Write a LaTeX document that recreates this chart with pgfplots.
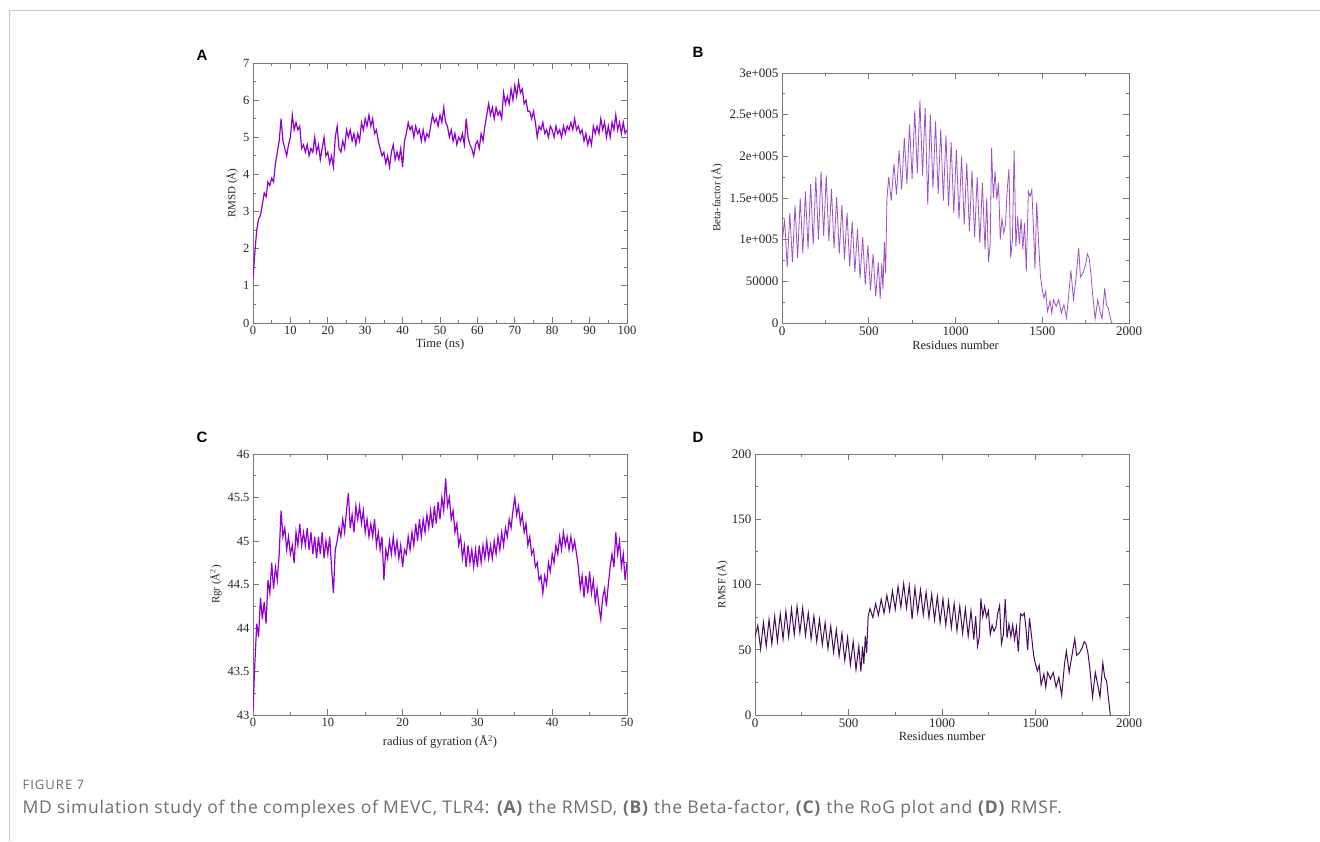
\documentclass[border=0pt]{standalone}
\usepackage{fontspec}
\setmainfont{Liberation Serif}
\newfontfamily\labfont{Liberation Sans}
\newfontfamily\capfont{Open Sans}
\usepackage{pgfplots}
\usepackage{pgfplotstable}
\pgfplotsset{compat=1.18}

\definecolor{rmsdcol}{RGB}{145,0,210}
\definecolor{betacol}{RGB}{155,80,200}
\definecolor{rmsfcol}{RGB}{70,10,90}
\definecolor{framecol}{RGB}{120,120,120}
\definecolor{capcol}{RGB}{110,110,110}

\pgfplotsset{
  grace/.style={
    scale only axis, anchor=south west,
    tick align=inside, major tick length=6pt, minor tick length=3pt,
    minor tick num=1,
    axis line style={draw=framecol, line width=0.8pt},
    every tick/.style={draw=framecol, line width=0.8pt},
    tick label style={font=\fontsize{12.5}{12.5}\selectfont, text=black!85},
    /pgf/number format/assume math mode=true,
    /pgf/number format/set thousands separator={},
    scaled ticks=false,
    xlabel style={font=\fontsize{12.5}{12.5}\selectfont, text=black!85, anchor=center},
    ylabel style={font=\fontsize{11}{11}\selectfont, text=black!85, anchor=center, rotate=0},
  }
}

% RMSD, one value every 0.5 ns
\pgfplotstableread[header=false]{
1.2
1.9
2.5
2.8
2.9
3.2
3.5
3.4
3.8
3.7
3.9
3.8
4.3
4.6
4.9
5.5
4.9
4.7
4.5
4.8
5.0
5.6
5.2
5.4
5.2
5.3
4.7
4.8
4.6
4.8
4.5
4.7
4.6
5.0
4.6
4.8
4.4
4.7
5.0
4.5
4.6
4.3
4.5
4.2
5.0
5.3
4.7
4.6
4.9
4.7
5.2
5.0
5.2
4.9
5.1
4.8
5.1
4.9
5.4
5.2
5.5
5.3
5.6
5.3
5.5
5.1
5.2
4.9
4.7
4.5
4.6
4.3
4.5
4.2
4.6
4.8
4.4
4.6
4.4
4.7
4.2
4.9
5.1
5.4
5.2
5.3
5.0
5.3
5.1
5.2
4.9
5.2
4.9
5.1
5.0
5.3
5.6
5.4
5.5
5.3
5.6
5.4
5.8
5.4
5.3
5.0
5.2
4.9
5.1
4.8
5.0
4.9
5.1
4.8
5.5
5.0
4.8
4.7
4.5
4.8
4.9
4.7
5.1
4.9
5.3
5.6
5.9
5.6
5.8
5.5
5.8
5.6
5.7
5.5
6.2
5.9
6.1
5.9
6.3
6.0
6.4
6.1
6.5
6.2
6.3
5.9
6.0
5.7
5.7
5.5
5.7
5.4
5.0
5.3
5.2
5.4
5.1
5.2
5.0
5.3
5.2
5.0
5.3
5.1
5.2
5.0
5.3
5.1
5.3
5.2
5.4
5.2
5.5
5.2
5.3
5.1
5.2
4.9
5.1
4.8
5.0
4.8
5.3
5.1
5.3
5.1
5.5
5.2
5.4
5.0
5.3
5.0
5.4
5.2
5.6
5.2
5.4
5.1
5.4
5.1
5.2
}\rmsd

% Rgr, one value every 0.25
\pgfplotstableread[header=false]{
43.05
43.60
44.05
43.90
44.35
44.10
44.30
44.05
44.55
44.40
44.75
44.45
44.70
44.55
44.85
45.35
45.05
45.15
44.90
45.05
44.85
44.95
44.75
45.10
44.95
45.20
44.95
45.10
44.95
45.15
44.90
45.10
44.85
45.05
44.80
45.05
44.85
45.10
44.80
45.00
44.85
45.05
44.70
44.40
44.90
45.00
45.15
45.05
45.25
45.10
45.35
45.55
45.15
45.30
45.10
45.40
45.25
45.40
45.20
45.35
45.10
45.25
45.05
45.20
45.05
45.25
44.95
45.10
44.90
45.05
44.55
44.90
44.80
45.00
44.85
45.05
44.85
45.00
44.80
44.95
44.70
44.90
44.85
45.05
44.90
45.10
44.95
45.20
45.00
45.25
45.05
45.25
45.10
45.30
45.15
45.35
45.15
45.40
45.20
45.45
45.25
45.50
45.35
45.72
45.40
45.50
45.25
45.35
45.10
45.20
44.95
45.05
44.80
44.95
44.70
44.95
44.75
44.90
44.70
44.90
44.70
44.95
44.75
44.95
44.80
45.00
44.80
44.95
44.80
45.00
44.85
45.05
44.90
45.10
44.95
45.15
45.05
45.25
45.15
45.35
45.50
45.30
45.40
45.20
45.30
45.10
45.20
44.95
45.05
44.85
44.90
44.70
44.75
44.55
44.60
44.40
44.60
44.50
44.75
44.65
44.85
44.75
44.95
44.85
45.05
44.90
45.10
44.95
45.05
44.90
45.05
44.90
45.00
44.85
44.70
44.45
44.60
44.35
44.60
44.40
44.65
44.40
44.55
44.30
44.45
44.25
44.10
44.35
44.45
44.25
44.50
44.70
44.85
44.70
45.10
44.85
45.00
44.70
44.85
44.55
44.75
}\rgr

\begin{document}
\begin{tikzpicture}[x=1pt,y=1pt]
\useasboundingbox (0,0) rectangle (1320,841);
\draw[black!22, line width=1pt] (9.5,0) -- (9.5,830.5) -- (1320,830.5);

\node[font=\labfont\bfseries\fontsize{15}{15}\selectfont] at (202,786) {A};
\node[font=\labfont\bfseries\fontsize{15}{15}\selectfont] at (698,789) {B};
\node[font=\labfont\bfseries\fontsize{15}{15}\selectfont] at (202,404) {C};
\node[font=\labfont\bfseries\fontsize{15}{15}\selectfont] at (698,404) {D};

% A: RMSD
\begin{axis}[grace, at={(253pt,518pt)}, width=374pt, height=260pt,
  xmin=0, xmax=100, ymin=0, ymax=7,
  xtick={0,10,...,100}, ytick={0,1,...,7},
  xlabel={Time (ns)}, ylabel={RMSD (Å)},
  xlabel style={at={(axis description cs:0.5,-0.081)}},
  ylabel style={at={(axis description cs:-0.056,0.5)}, rotate=0}]
\addplot[rmsdcol, line width=1.2pt] table[x expr=\coordindex*0.5, y index=0] {\rmsd};
\end{axis}

% B: Beta-factor
\begin{axis}[grace, at={(782pt,518pt)}, width=347pt, height=250pt,
  xmin=0, xmax=2000, ymin=0, ymax=300000,
  xtick={0,500,...,2000},
  ytick={0,50000,100000,150000,200000,250000,300000},
  yticklabels={0,50000,1e+005,1.5e+005,2e+005,2.5e+005,3e+005},
  tick label style={font=\fontsize{13}{13}\selectfont},
  xlabel={Residues number}, ylabel={Beta-factor (Å)},
  xlabel style={at={(axis description cs:0.5,-0.088)}},
  ylabel style={at={(axis description cs:-0.187,0.5)}}]
\addplot[betacol, line width=0.8pt] coordinates {
(0,95000) (15,124000) (30,67000) (45,132000) (60,73000) (75,141000)
(90,78000) (105,150000) (120,83500) (135,158000) (150,89000) (165,166500)
(180,94000) (195,175000) (210,100000) (225,182000) (240,105000) (255,177000)
(270,98000) (285,161000) (300,90000) (315,151000) (330,83000) (345,141500)
(360,76000) (375,132000) (390,68000) (405,122000) (420,61000) (435,112500)
(450,54000) (465,103000) (480,46000) (495,93000) (510,39000) (525,83000)
(540,32000) (555,73000) (566,29000) (575,72000) (582,40000) (590,97000)
(597,60000) (605,150000) (615,175000) (630,147000) (645,191000) (660,154000)
(675,207000) (690,160000) (705,222000) (720,167000) (735,238000) (750,173000)
(765,255000) (780,180000) (795,267000) (810,177000) (825,258000) (840,142000)
(855,250000) (870,162000) (885,242000) (900,155000) (915,233000) (930,147000)
(945,225000) (960,140000) (975,217000) (990,132000) (1005,208000) (1020,125000)
(1035,200000) (1050,118000) (1065,192000) (1080,110000) (1095,183000) (1110,103000)
(1125,175000) (1140,96000) (1155,168000) (1170,88000) (1180,150000) (1190,73000)
(1200,95000) (1208,210000) (1218,150000) (1228,182000) (1238,148000) (1248,168000)
(1258,100000) (1268,125000) (1278,108000) (1288,118000) (1298,160000) (1308,185000)
(1318,78000) (1328,100000) (1338,207000) (1348,92000) (1358,128000) (1368,95000)
(1378,125000) (1388,88000) (1398,120000) (1408,62000) (1420,158000) (1430,152000)
(1440,160000) (1450,110000) (1458,65000) (1468,145000) (1478,100000) (1490,55000)
(1500,40000) (1510,30000) (1520,38000) (1530,14000) (1545,26000) (1555,12000)
(1565,28000) (1580,20000) (1595,28000) (1610,12000) (1625,22000) (1640,6000)
(1655,40000) (1665,63000) (1680,28000) (1695,55000) (1710,90000) (1720,55000)
(1735,60000) (1750,70000) (1760,83000) (1770,78000) (1780,60000) (1790,35000)
(1805,5000) (1820,28000) (1835,12000) (1845,5000) (1860,42000) (1870,22000)
(1880,18000) (1900,0)
};
\end{axis}

% C: radius of gyration
\begin{axis}[grace, at={(253pt,126pt)}, width=374pt, height=261pt,
  xmin=0, xmax=50, ymin=43, ymax=46,
  xtick={0,10,...,50}, ytick={43,43.5,...,46},
  xlabel={radius of gyration (Å\textsuperscript{2})}, ylabel={Rgr (Å\textsuperscript{2})},
  xlabel style={at={(axis description cs:0.5,-0.103)}},
  ylabel style={at={(axis description cs:-0.099,0.5)}}]
\addplot[rmsdcol, line width=1.2pt] table[x expr=\coordindex*0.25, y index=0] {\rgr};
\end{axis}

% D: RMSF
\begin{axis}[grace, at={(755pt,126pt)}, width=374pt, height=261pt,
  xmin=0, xmax=2000, ymin=0, ymax=200,
  xtick={0,500,...,2000}, ytick={0,50,...,200},
  tick label style={font=\fontsize{13}{13}\selectfont},
  xlabel={Residues number}, ylabel={RMSF (Å)},
  xlabel style={at={(axis description cs:0.5,-0.080)}},
  ylabel style={at={(axis description cs:-0.088,0.5)}}]
\addplot[rmsfcol, line width=1.0pt] coordinates {
(0,60.1) (15,68.6) (30,50.5) (45,70.8) (60,52.7) (75,73.2)
(90,54.4) (105,75.5) (120,56.3) (135,77.5) (150,58.2) (165,79.5)
(180,59.8) (195,81.5) (210,61.6) (225,83.2) (240,63.2) (255,82.0)
(270,61.0) (285,78.2) (300,58.5) (315,75.7) (330,56.2) (345,73.3)
(360,53.7) (375,70.8) (390,50.8) (405,68.1) (420,48.1) (435,65.4)
(450,45.3) (465,62.6) (480,41.8) (495,59.4) (510,38.5) (525,56.2)
(540,34.9) (555,52.7) (566,33.2) (575,52.3) (582,39.0) (590,60.7)
(597,47.7) (605,75.5) (615,81.5) (630,74.7) (645,85.2) (660,76.5)
(675,88.7) (690,78.0) (705,91.8) (720,79.7) (735,95.1) (750,81.1)
(765,98.4) (780,82.7) (795,100.7) (810,82.0) (825,99.0) (840,73.5)
(855,97.5) (870,78.5) (885,95.9) (900,76.7) (915,94.1) (930,74.7)
(945,92.5) (960,72.9) (975,90.8) (990,70.8) (1005,88.9) (1020,68.9)
(1035,87.2) (1050,67.0) (1065,85.4) (1080,64.6) (1095,83.4) (1110,62.6)
(1125,81.5) (1140,60.4) (1155,79.9) (1170,57.8) (1180,75.5) (1190,52.7)
(1200,60.1) (1208,89.3) (1218,75.5) (1228,83.2) (1238,75.0) (1248,79.9)
(1258,61.6) (1268,68.9) (1278,64.1) (1288,67.0) (1298,78.0) (1308,83.8)
(1318,54.4) (1328,61.6) (1338,88.7) (1348,59.1) (1358,69.7) (1368,60.1)
(1378,68.9) (1388,57.8) (1398,67.5) (1408,48.5) (1420,77.5) (1430,76.0)
(1440,78.0) (1450,64.6) (1458,49.7) (1468,74.2) (1478,61.6) (1490,45.7)
(1500,39.0) (1510,33.8) (1520,38.0) (1530,23.1) (1545,31.4) (1555,21.4)
(1565,32.6) (1580,27.6) (1595,32.6) (1610,21.4) (1625,28.9) (1640,15.1)
(1655,39.0) (1665,48.9) (1680,32.6) (1695,45.7) (1710,58.5) (1720,45.7)
(1735,47.7) (1750,51.6) (1760,56.2) (1770,54.4) (1780,47.7) (1790,36.5)
(1805,13.8) (1820,32.6) (1835,21.4) (1845,13.8) (1860,39.9) (1870,28.9)
(1880,26.2) (1900,0)
};
\end{axis}

\node[anchor=west, font=\capfont\fontsize{13}{13}\selectfont\addfontfeatures{LetterSpace=8}, text=capcol] at (19,56) {FIGURE 7};
\node[anchor=west, font=\capfont\fontsize{17.5}{17.5}\selectfont\addfontfeatures{LetterSpace=4}, text=capcol] at (19,32)
  {MD simulation study of the complexes of MEVC, TLR4: \textbf{(A)} the RMSD, \textbf{(B)} the Beta-factor, \textbf{(C)} the RoG plot and \textbf{(D)} RMSF.};
\end{tikzpicture}
\end{document}
